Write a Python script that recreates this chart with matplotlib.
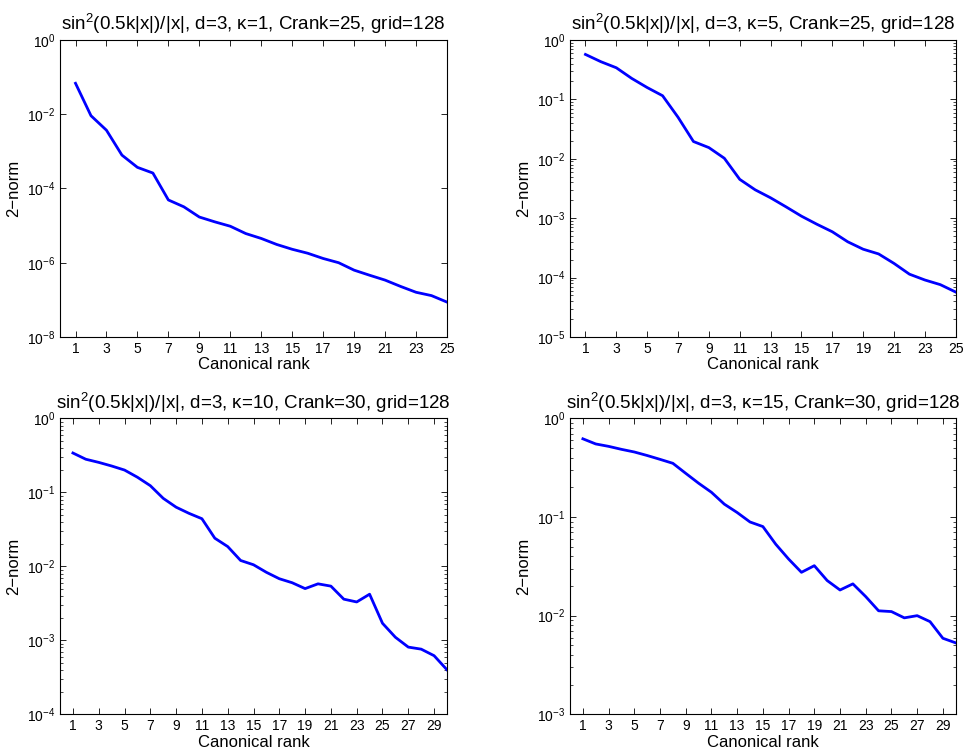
import matplotlib
matplotlib.use('Agg')
import matplotlib.pyplot as plt
from matplotlib.ticker import LogLocator, NullFormatter

plt.rcParams['font.family'] = ['Liberation Sans', 'DejaVu Sans']
plt.rcParams['mathtext.fontset'] = 'custom'
plt.rcParams['mathtext.rm'] = 'Liberation Sans'
plt.rcParams['mathtext.it'] = 'Liberation Sans:italic'
plt.rcParams['mathtext.default'] = 'regular'

# 2-norm vs canonical rank, one list per panel
norm_k1 = [0.068, 0.0091, 0.0037, 7.9e-4, 3.7e-4, 2.6e-4, 4.9e-5, 3.2e-5, 1.7e-5,
           1.26e-5, 9.6e-6, 6.1e-6, 4.5e-6, 3.1e-6, 2.3e-6, 1.8e-6, 1.3e-6, 1.0e-6,
           6.3e-7, 4.6e-7, 3.4e-7, 2.3e-7, 1.6e-7, 1.3e-7, 8.7e-8]
norm_k5 = [0.57, 0.43, 0.34, 0.225, 0.158, 0.115, 0.050, 0.0195, 0.0154, 0.0102,
           0.0045, 0.0030, 0.0022, 0.00155, 0.00108, 7.9e-4, 5.9e-4, 4.0e-4, 3.0e-4,
           2.5e-4, 1.73e-4, 1.14e-4, 9.1e-5, 7.6e-5, 5.7e-5]
norm_k10 = [0.34, 0.28, 0.254, 0.227, 0.20, 0.16, 0.123, 0.083, 0.063, 0.052, 0.044,
            0.024, 0.0185, 0.012, 0.0105, 0.0083, 0.0068, 0.006, 0.005, 0.0058,
            0.0054, 0.0036, 0.0033, 0.0042, 0.0017, 0.0011, 8.1e-4, 7.6e-4, 6.2e-4, 4.0e-4]
norm_k15 = [0.62, 0.55, 0.52, 0.485, 0.456, 0.42, 0.384, 0.35, 0.277, 0.22, 0.178,
            0.135, 0.111, 0.089, 0.080, 0.053, 0.0375, 0.0275, 0.0321, 0.0227, 0.0182,
            0.021, 0.0156, 0.0112, 0.011, 0.0095, 0.010, 0.0087, 0.0059, 0.0053]

kappas = [1, 5, 10, 15]
cranks = [25, 25, 30, 30]
series = [norm_k1, norm_k5, norm_k10, norm_k15]
ylow = [-8, -5, -4, -3]

positions = [
    [0.0622, 0.5519, 0.401, 0.395],
    [0.5907, 0.5519, 0.3997, 0.395],
    [0.0622, 0.0501, 0.401, 0.3936],
    [0.5907, 0.0501, 0.3997, 0.3936],
]

fig = plt.figure(figsize=(9.65, 7.52), dpi=100)

for pos, kap, cr, vals, lo in zip(positions, kappas, cranks, series, ylow):
    ax = fig.add_axes(pos)
    ranks = list(range(1, len(vals) + 1))
    ax.semilogy(ranks, vals, color='#0000ff', lw=2)
    ax.set_xlim(0, cr)
    ax.set_ylim(10.0 ** lo, 1)
    ax.set_xticks(list(range(1, cr + 1, 2)))
    if lo < -6:
        ax.set_yticks([10.0 ** e for e in range(lo, 1, 2)])
        ax.yaxis.set_minor_locator(plt.NullLocator())
    else:
        ax.yaxis.set_major_locator(LogLocator(base=10, numticks=20))
        ax.yaxis.set_minor_locator(LogLocator(base=10, subs=range(2, 10), numticks=20))
    ax.yaxis.set_minor_formatter(NullFormatter())
    ax.tick_params(which='both', direction='in', top=True, right=True, labelsize=10)
    ax.tick_params(which='major', length=4, width=0.6)
    ax.tick_params(which='minor', length=2, width=0.5)
    for s in ax.spines.values():
        s.set_linewidth(0.8)
    ax.set_xlabel('Canonical rank', fontsize=12, labelpad=1)
    ax.set_ylabel('2\u2212norm', fontsize=12)
    ax.set_title('sin$^2$(0.5k|x|)/|x|, d=3, \u03ba=%d, Crank=%d, grid=128' % (kap, cr),
                 fontsize=13.5, pad=7)

fig.savefig('out.png', dpi=100)
